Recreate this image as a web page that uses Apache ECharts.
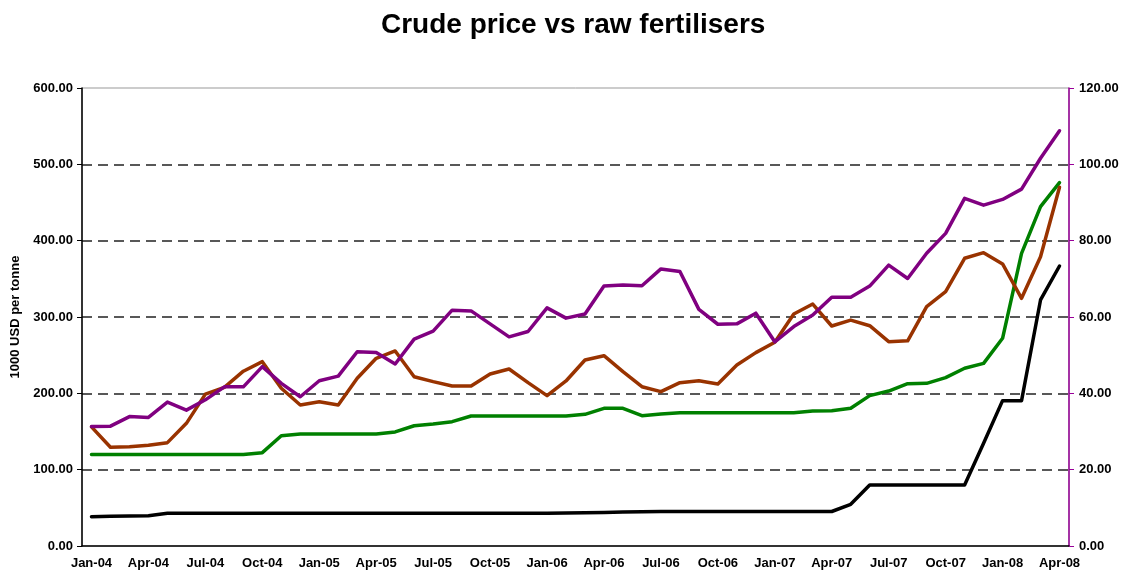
<!DOCTYPE html>
<html>
<head>
<meta charset="utf-8">
<script src="https://cdn.jsdelivr.net/npm/echarts@6/dist/echarts.min.js"></script>
<style>
  html, body { margin: 0; padding: 0; background: #fff; }
  #chart { width: 1127px; height: 573px; }
</style>
</head>
<body>
<div id="chart"></div>
<script>
// monthly, Jan-04 .. Apr-08
var months = [
  "Jan-04", "Feb-04", "Mar-04", "Apr-04", "May-04", "Jun-04", "Jul-04", "Aug-04", "Sep-04", "Oct-04", "Nov-04", "Dec-04",
  "Jan-05", "Feb-05", "Mar-05", "Apr-05", "May-05", "Jun-05", "Jul-05", "Aug-05", "Sep-05", "Oct-05", "Nov-05", "Dec-05",
  "Jan-06", "Feb-06", "Mar-06", "Apr-06", "May-06", "Jun-06", "Jul-06", "Aug-06", "Sep-06", "Oct-06", "Nov-06", "Dec-06",
  "Jan-07", "Feb-07", "Mar-07", "Apr-07", "May-07", "Jun-07", "Jul-07", "Aug-07", "Sep-07", "Oct-07", "Nov-07", "Dec-07",
  "Jan-08", "Feb-08", "Mar-08", "Apr-08"
];

// crude price, right axis
var crude = [
  31.3, 31.4, 33.9, 33.7, 37.7, 35.6, 38.3, 41.7, 41.7, 47.0, 42.6, 39.1,
  43.3, 44.5, 50.9, 50.7, 47.7, 54.2, 56.3, 61.8, 61.6, 58.2, 54.8, 56.2,
  62.4, 59.7, 60.8, 68.1, 68.4, 68.2, 72.6, 71.9, 62.0, 58.1, 58.2, 61.0,
  53.5, 57.5, 60.5, 65.2, 65.2, 68.1, 73.6, 70.1, 76.7, 81.9, 91.1, 89.3,
  90.8, 93.5, 101.6, 108.8
];

// left axis, 1000 USD per tonne
var brown = [
  156, 129.3, 130, 131.9, 135.4, 160.7, 199, 207.9, 229, 241.5, 206.6, 184.7,
  189, 184.7, 219.7, 245.9, 255.5, 221.8, 215.3, 209.6, 209.6, 225.3, 231.9, 214,
  197, 216.2, 243.7, 249.3, 228.4, 208.7, 202.2, 214, 216.6, 212.2, 237.1, 253.3,
  266.9, 304, 317, 288.2, 296, 288.6, 267.7, 268.8, 313.5, 333.2, 376.9, 384.3,
  369.5, 324.5, 379, 470
];

var green = [
  120, 120, 120, 120, 120, 120, 120, 120, 120, 122.3, 144.5, 146.7,
  146.7, 146.7, 146.7, 146.7, 149.4, 157.5, 159.8, 162.9, 170.3, 170.3, 170.3, 170.3,
  170.3, 170.3, 172.5, 180.4, 180.4, 170.7, 172.9, 174.7, 174.7, 174.7, 174.7, 174.7,
  174.7, 174.7, 176.9, 177.3, 180.4, 197, 203, 212.6, 213.1, 220.5, 232.8, 239.3,
  272.1, 383.4, 444.5, 476
];

var black = [
  38.4, 38.9, 39.3, 39.7, 42.8, 42.8, 42.8, 42.8, 42.8, 42.8, 42.8, 42.8,
  42.8, 42.8, 42.8, 42.8, 42.8, 42.8, 42.8, 42.8, 42.8, 42.8, 42.8, 42.8,
  42.8, 43.2, 43.6, 44, 44.5, 45, 45.2, 45.2, 45.2, 45.2, 45.2, 45.2,
  45.2, 45.2, 45.2, 45.2, 54.6, 79.9, 80, 80, 80, 80, 80, 134.5,
  190.4, 190.4, 322.3, 366.8
];

var leftTicks = { min: 0, max: 600, interval: 100 };
var rightTicks = { min: 0, max: 120, interval: 20 };

var FONT = "Liberation Sans, Arial, sans-serif";

var myChart = echarts.init(document.getElementById("chart"), null, { renderer: "canvas" });

function lineSeries(name, data, color, axisIdx) {
  return {
    name: name,
    type: "line",
    yAxisIndex: axisIdx,
    data: data,
    symbol: "none",
    animation: false,
    lineStyle: { color: color, width: 3.5, join: "round", cap: "round" },
    itemStyle: { color: color }
  };
}

myChart.setOption({
  backgroundColor: "#fff",
  animation: false,
  title: {
    text: "Crude price vs raw fertilisers",
    left: 376,
    top: 6,
    textStyle: { fontFamily: FONT, fontSize: 28, fontWeight: "bold", color: "#000" }
  },
  grid: {
    left: 82,
    right: 58,
    top: 88,
    bottom: 27,
    show: true,
    borderColor: "#999",
    borderWidth: 1,
    backgroundColor: "transparent"
  },
  xAxis: {
    type: "category",
    data: months,
    boundaryGap: true,
    axisLine: { lineStyle: { color: "#000", width: 1.5 } },
    axisTick: { interval: 0, length: 6, lineStyle: { color: "#000", width: 1 } },
    axisLabel: {
      interval: 2,
      margin: 11,
      color: "#000",
      fontFamily: FONT,
      fontWeight: "bold",
      fontSize: 13
    },
    splitLine: { show: false }
  },
  yAxis: [
    {
      type: "value",
      min: leftTicks.min,
      max: leftTicks.max,
      interval: leftTicks.interval,
      name: "1000 USD per tonne",
      nameLocation: "middle",
      nameGap: 40,
      nameRotate: 90,
      nameTextStyle: { fontFamily: FONT, fontWeight: "bold", fontSize: 13, color: "#000" },
      axisLine: { show: true, lineStyle: { color: "#000", width: 1.5 } },
      axisTick: { show: true, length: 5, lineStyle: { color: "#000" } },
      axisLabel: {
        margin: 9,
        color: "#000",
        fontFamily: FONT,
        fontWeight: "bold",
        fontSize: 13,
        formatter: function (v) { return v.toFixed(2); }
      },
      splitLine: {
        show: true,
        showMinLine: false,
        showMaxLine: false,
        lineStyle: { color: "#222", width: 1.5, type: [10, 6] }
      }
    },
    {
      type: "value",
      position: "right",
      min: rightTicks.min,
      max: rightTicks.max,
      interval: rightTicks.interval,
      axisLine: { show: true, lineStyle: { color: "#990099", width: 1.5 } },
      axisTick: { show: true, length: 5, inside: false, lineStyle: { color: "#990099" } },
      axisLabel: {
        margin: 10,
        color: "#000",
        fontFamily: FONT,
        fontWeight: "bold",
        fontSize: 13,
        formatter: function (v) { return v.toFixed(2); }
      },
      splitLine: { show: false }
    }
  ],
  series: [
    lineSeries("Raw fertiliser A", black, "#000000", 0),
    lineSeries("Raw fertiliser B", green, "#008000", 0),
    lineSeries("Raw fertiliser C", brown, "#993300", 0),
    lineSeries("Crude price", crude, "#800080", 1)
  ]
});
</script>
</body>
</html>
